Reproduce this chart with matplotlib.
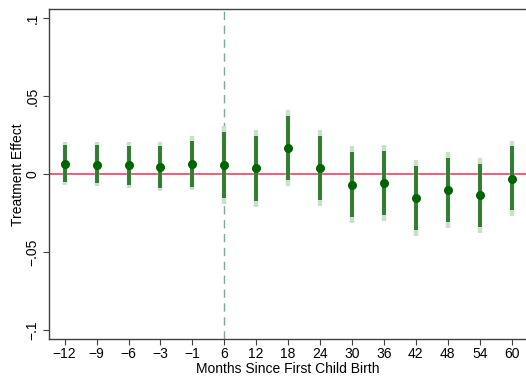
import numpy as np
import matplotlib.pyplot as plt

plt.rcParams['font.family'] = ['Liberation Sans', 'DejaVu Sans']

# event-study estimates by months since first child birth
months = ['-12', '-9', '-6', '-3', '-1', '6', '12', '18', '24', '30', '36', '42', '48', '54', '60']
effect = [0.0068, 0.0062, 0.0056, 0.0049, 0.0068, 0.0056, 0.0040, 0.0168, 0.0040,
          -0.0066, -0.0055, -0.0151, -0.0100, -0.0136, -0.0028]
ci95_lo = [-0.0049, -0.0055, -0.0070, -0.0085, -0.0079, -0.0155, -0.0170, -0.0038, -0.0166,
           -0.0272, -0.0262, -0.0358, -0.0307, -0.0340, -0.0230]
ci95_hi = [0.0185, 0.0185, 0.0180, 0.0180, 0.0213, 0.0270, 0.0247, 0.0372, 0.0247,
           0.0140, 0.0151, 0.0053, 0.0107, 0.0068, 0.0179]
ci99_lo = [-0.0070, -0.0077, -0.0091, -0.0110, -0.0104, -0.0192, -0.0209, -0.0075, -0.0202,
           -0.0310, -0.0300, -0.0396, -0.0343, -0.0379, -0.0266]
ci99_hi = [0.0206, 0.0206, 0.0204, 0.0206, 0.0243, 0.0307, 0.0285, 0.0409, 0.0285,
           0.0179, 0.0190, 0.0089, 0.0145, 0.0107, 0.0215]

x = np.arange(len(months))

fig = plt.figure(figsize=(5.26, 3.81), dpi=100)
ax = fig.add_axes([0.0932, 0.1102, 0.9068, 0.865])

ax.axhline(0, color='#e8305a', linewidth=1.1, zorder=1)
ax.axvline(months.index('6'), color='#7fa89c', linewidth=1.0, linestyle=(0, (6, 4)), zorder=1)

ax.vlines(x, ci99_lo, ci99_hi, color='#c9e0c9', linewidth=3.2, zorder=2)
ax.vlines(x, ci95_lo, ci95_hi, color='#2e7d32', linewidth=2.8, zorder=3)
ax.plot(x, effect, 'o', color='#006400', markersize=5.5, zorder=4)

ax.set_xlim(-0.49, 14.45)
ax.set_ylim(-0.1055, 0.1055)
ax.set_xticks(x)
ax.set_xticklabels([m.replace('-', '\u2212') for m in months], fontsize=10)
ax.set_yticks([-0.1, -0.05, 0, 0.05, 0.1])
ax.set_yticklabels(['\u2212.1', '\u2212.05', '0', '.05', '.1'], fontsize=10,
                   rotation=90, va='center')

ax.set_xlabel('Months Since First Child Birth', fontsize=10, labelpad=1)
ax.set_ylabel('Treatment Effect', fontsize=10, labelpad=0)

for side in ['left', 'bottom', 'top']:
    ax.spines[side].set_color('#404040')
    ax.spines[side].set_linewidth(1.0)
ax.spines['right'].set_visible(False)
ax.tick_params(direction='out', length=4, width=0.8, color='#404040', pad=3)
ax.tick_params(axis='x', pad=1.5)

fig.savefig('out.png', dpi=100)
